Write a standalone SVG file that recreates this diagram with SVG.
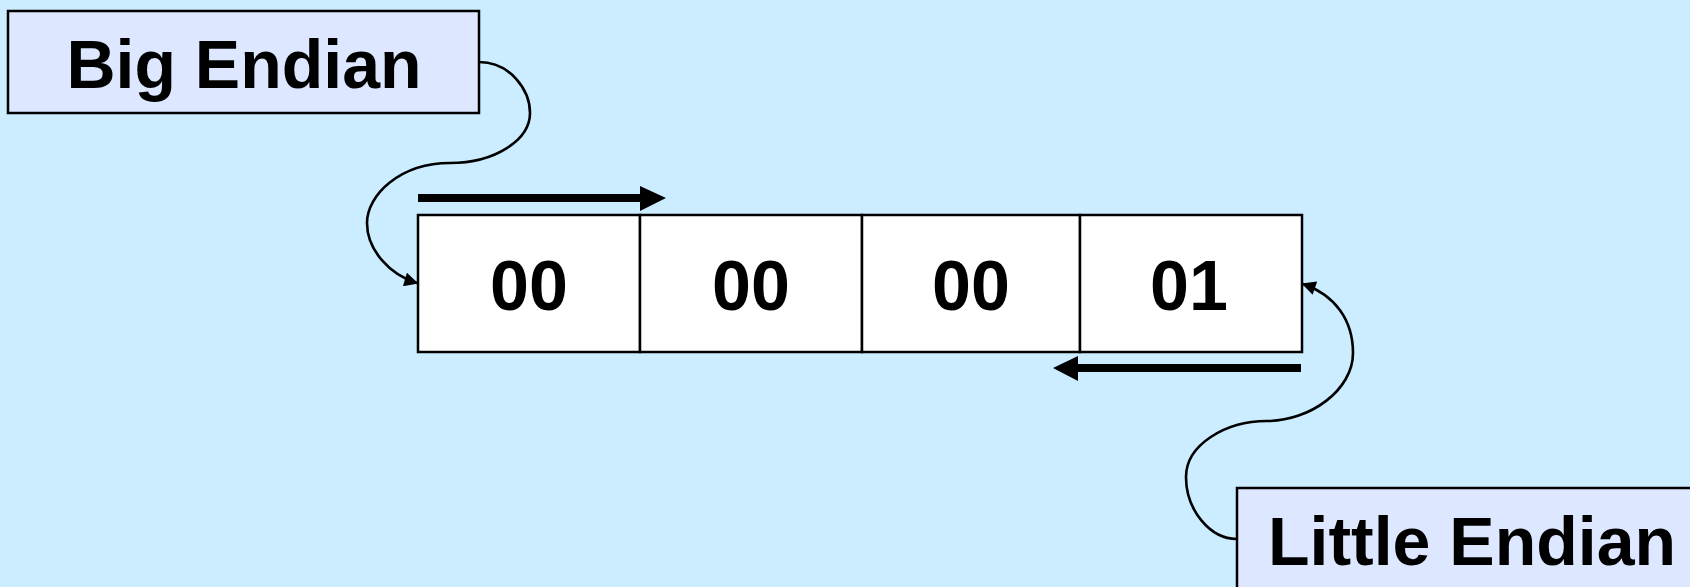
<svg xmlns="http://www.w3.org/2000/svg" width="1690" height="587" viewBox="0 0 1690 587">
  <style>
    .label { fill: #DDE7FF; stroke: #000; stroke-width: 2.5; }
    .cell { fill: #FFFFFF; stroke: #000; stroke-width: 2.5; }
    .txt { font-family: "Liberation Sans", Arial, sans-serif; font-weight: bold; fill: #000; text-anchor: middle; }
    .name { font-size: 68px; }
    .byte { font-size: 70px; }
    .curve { fill: none; stroke: #000; stroke-width: 2.6; }
    .thick { fill: none; stroke: #000; stroke-width: 8; }
  </style>
  <defs>
    <marker id="tip" viewBox="0 0 10 10" refX="9" refY="5" markerWidth="16" markerHeight="14" markerUnits="userSpaceOnUse" orient="auto">
      <path d="M0,0 L10,5 L0,10 Z" fill="#000"/>
    </marker>
  </defs>
  <rect width="1690" height="587" fill="#CCECFF"/>

  <g id="big-endian">
    <rect class="label" x="8" y="11" width="471" height="102"/>
    <text class="txt name" x="244" y="88">Big Endian</text>
  </g>

  <g id="little-endian">
    <rect class="label" x="1237" y="488" width="480" height="110"/>
    <text class="txt name" x="1472" y="565">Little Endian</text>
  </g>

  <g id="memory">
    <g id="byte0">
      <rect class="cell" x="418" y="215" width="222" height="137"/>
      <text class="txt byte" x="529" y="310">00</text>
    </g>
    <g id="byte1">
      <rect class="cell" x="640" y="215" width="222" height="137"/>
      <text class="txt byte" x="751" y="310">00</text>
    </g>
    <g id="byte2">
      <rect class="cell" x="862" y="215" width="218" height="137"/>
      <text class="txt byte" x="971" y="310">00</text>
    </g>
    <g id="byte3">
      <rect class="cell" x="1080" y="215" width="222" height="137"/>
      <text class="txt byte" x="1189" y="310">01</text>
    </g>
  </g>

  <g id="connectors">
    <path class="curve" d="M479,62 C510,62 530,90 530,113 C530,140 495,163 450,163 C400,163 367,195 367,223 C367,250 390,275 417,283" marker-end="url(#tip)"/>
    <path class="curve" d="M1237,539 C1210,539 1186,510 1186,477 C1186,445 1225,421 1267,421 C1310,421 1353,390 1353,353 C1353,320 1335,295 1303,284" marker-end="url(#tip)"/>
    <!-- byte order direction arrows -->
    <line class="thick" x1="418" y1="198" x2="642" y2="198"/>
    <path d="M640,186 L666,198 L640,211 Z" fill="#000"/>
    <line class="thick" x1="1301" y1="368" x2="1076" y2="368"/>
    <path d="M1078,356 L1053,368 L1078,381 Z" fill="#000"/>
  </g>
</svg>
